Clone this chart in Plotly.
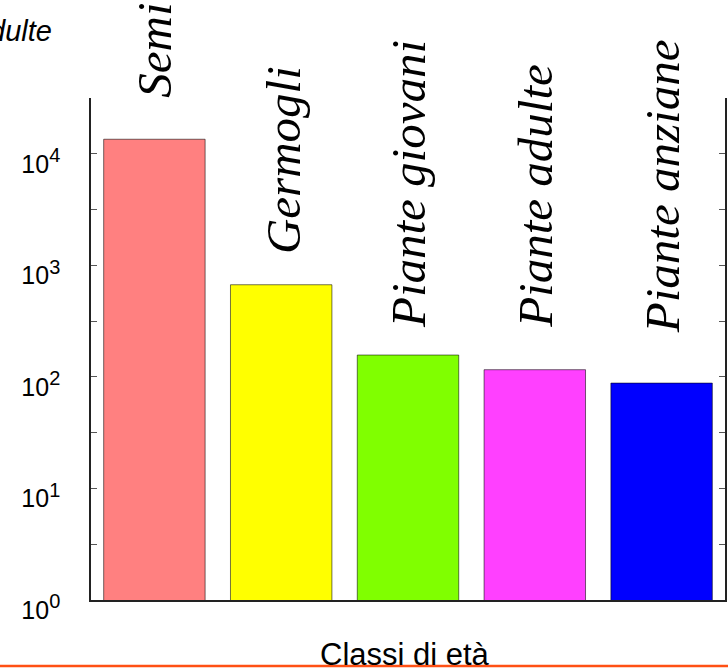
import plotly.graph_objects as go

categories = ["Semi", "Germogli", "Piante giovani", "Piante adulte", "Piante anziane"]
values = [13500, 670, 157, 116, 88]
bar_colors = ["#FF8080", "#FFFF00", "#80FF00", "#FF40FF", "#0000FF"]
tick_values = [1, 10, 100, 1000, 10000]
tick_exponents = ["0", "1", "2", "3", "4"]
minor_tick_values = [10 ** (k + 0.5) for k in range(5)]
y_title = "Numero di piante adulte"
x_title = "Classi di età"

tick_labels = ['10<sup><span style="font-size:20px">%s</span></sup>' % e for e in tick_exponents]

# label placement (style): log10 position of the start of each rotated label, x pixel shift
label_y = [4.484, 3.085, 2.42, 2.42, 2.37]
label_xshift = [0, 3, 0, 0, 1]

fig = go.Figure()
fig.add_trace(go.Bar(
    x=categories, y=values,
    marker=dict(color=bar_colors, line=dict(color="rgba(0,0,0,0.55)", width=1)),
    width=0.8,
    showlegend=False,
))

for cat, ly, xs in zip(categories, label_y, label_xshift):
    fig.add_annotation(
        x=cat, y=ly, xref="x", yref="y", text=cat, textangle=-90,
        showarrow=False, xanchor="center", yanchor="bottom", xshift=xs,
        font=dict(family="Liberation Serif", size=49, color="black", style="italic"),
    )

fig.add_annotation(
    x=0, y=1, xref="paper", yref="paper", text=y_title, showarrow=False,
    xanchor="right", yanchor="middle", xshift=-37, yshift=67,
    font=dict(family="Liberation Sans", size=29, color="black", style="italic"),
)

fig.add_annotation(
    x=0.5, y=0, xref="paper", yref="paper", text=x_title, showarrow=False,
    xanchor="center", yanchor="middle", xshift=-3, yshift=-54,
    font=dict(family="Liberation Sans", size=31, color="black"),
)

fig.add_shape(type="line", xref="paper", yref="paper", x0=-0.2, x1=1.05,
              y0=-0.1315, y1=-0.1315, line=dict(color="#FF5014", width=2.5))

fig.update_layout(
    width=728, height=671,
    margin=dict(l=91, r=1, t=98, b=71),
    paper_bgcolor="white", plot_bgcolor="white",
    bargap=0.2,
    font=dict(family="Liberation Sans", color="black"),
)
fig.update_xaxes(
    showline=True, linecolor="#222", linewidth=1.5, mirror=False,
    showticklabels=False, ticks="", showgrid=False,
)
fig.update_yaxes(
    type="log", range=[0, 4.5],
    showline=True, linecolor="#222", linewidth=1.5, mirror="allticks",
    showgrid=False, zeroline=False,
    tickmode="array", tickvals=tick_values, ticktext=tick_labels,
    ticks="inside", ticklen=6, tickcolor="#555", tickwidth=1,
    tickfont=dict(family="Liberation Sans", size=25, color="black"),
    ticklabelstandoff=24, ticklabelshift=10,
    minor=dict(tickmode="array", tickvals=minor_tick_values, ticks="inside", ticklen=6, tickcolor="#555", tickwidth=1),
)

fig.write_html("out.html", config={"displayModeBar": False},
               post_script="document.body.style.margin='0';")
